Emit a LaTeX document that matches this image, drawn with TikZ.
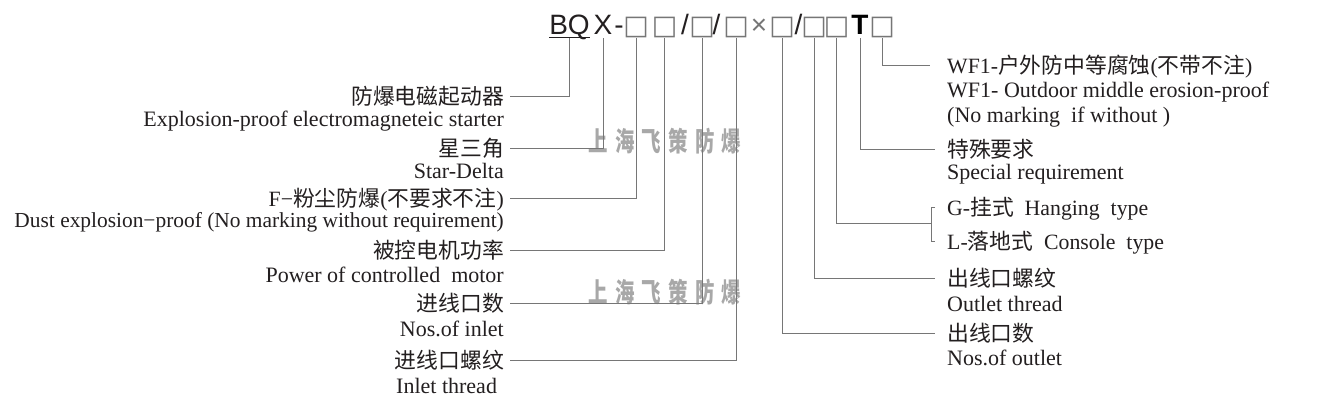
\documentclass[tikz,border=0pt]{standalone}
\usepackage{fontspec}
\usepackage{graphicx}
\setmainfont{Liberation Serif}
\newfontfamily\cjk{Noto Sans CJK SC}
\newfontfamily\codefont{Liberation Sans}
\newfontfamily\boxfont{DejaVu Sans}
\definecolor{ink}{HTML}{231F20}
\definecolor{ln}{HTML}{767676}
\definecolor{wm}{HTML}{A8A8A8}
\begin{document}
\begin{tikzpicture}[x=1pt,y=-1pt,
  cn/.style={inner sep=0pt, text height=18pt, text depth=1.5pt, font=\fontsize{21.8}{24}\selectfont, text=ink},
  en/.style={inner sep=0pt, font=\fontsize{22}{24}\selectfont, text=ink},
  code/.style={inner sep=0pt, text height=20pt, text depth=4pt, anchor=base, font=\codefont\fontsize{28}{30}\selectfont, text=ink},
  bx/.style={code, font=\boxfont\fontsize{27}{30}\selectfont, text=ln},
  conn/.style={draw=ln, line width=1pt},
  wmark/.style={inner sep=0pt, text=wm, font=\cjk\bfseries\fontsize{27}{30}\selectfont}
]
\useasboundingbox[fill=white] (0,0) rectangle (1330,410);

% code line
\node[code] (bq) at (569.5,34) {BQ};
\draw[ink, line width=1pt] ([yshift=1pt]bq.south west) -- ([yshift=1pt]bq.south east);
\node[code] (x)  at (603,34) {X};
\node[code] (d1) at (619,34) {-};
\node[bx]   (b1) at (636,34) {□};
\node[bx]   (b2) at (664.5,34) {□};
\node[code] (s1) at (685,34) {/};
\node[bx]   (b3) at (702,34) {□};
\node[code] (s2) at (716.5,34) {/};
\node[bx]   (b4) at (736,34) {□};
\node[code, text=ln] (tm) at (759,34) {×};
\node[bx]   (b5) at (782,34) {□};
\node[code] (s3) at (798.5,34) {/};
\node[bx]   (b6) at (814,34) {□};
\node[bx]   (b7) at (836.5,34) {□};
\node[code, text=black, font=\codefont\bfseries\fontsize{28}{30}\selectfont] (t) at (860,34) {T};
\node[bx]   (b8) at (882,34) {□};

% watermarks
\node[wmark] (wm1) at (665,141) {\scalebox{0.72}[1]{上\hspace{10pt}海\hspace{10pt}飞\hspace{10pt}策\hspace{10pt}防\hspace{10pt}爆}};
\node[wmark] (wm2) at (665,292) {\scalebox{0.72}[1]{上\hspace{10pt}海\hspace{10pt}飞\hspace{10pt}策\hspace{10pt}防\hspace{10pt}爆}};

% left labels
\node[cn, anchor=east] (l1) at (504,96) {\cjk 防爆电磁起动器};
\node[en, anchor=base east] (e1) at (504,126) {Explosion-proof electromagneteic starter};
\node[cn, anchor=east] (l2) at (504,148) {\cjk 星三角};
\node[en, anchor=base east] (e2) at (504,178) {Star-Delta};
\node[cn, anchor=east] (l3) at (504,198) {F−{\cjk 粉尘防爆}({\cjk 不要求不注})};
\node[en, anchor=base east, font=\fontsize{21.4}{24}\selectfont] (e3) at (504,227) {Dust explosion−proof (No marking without requirement)};
\node[cn, anchor=east] (l4) at (504,250) {\cjk 被控电机功率};
\node[en, anchor=base east] (e4) at (504,282) {Power of controlled\ \ motor};
\node[cn, anchor=east] (l5) at (504,303) {\cjk 进线口数};
\node[en, anchor=base east] (e5) at (504,336) {Nos.of inlet};
\node[cn, anchor=east] (l6) at (504,360) {\cjk 进线口螺纹};
\node[en, anchor=base west] (e6) at (396,393) {Inlet thread};

% right labels
\node[cn, anchor=west] (r1) at (947,65) {WF1-{\cjk 户外防中等腐蚀}({\cjk 不带不注})};
\node[en, anchor=base west] (f1) at (947,97) {WF1- Outdoor middle erosion-proof};
\node[en, anchor=base west] (f1b) at (947,122) {(No marking\ \ if without )};
\node[cn, anchor=west] (r2) at (947,149) {\cjk 特殊要求};
\node[en, anchor=base west] (f2) at (947,179) {Special requirement};
\node[cn, anchor=west] (rg) at (947,207) {G-{\cjk 挂式}\ \ Hanging\ \ type};
\node[cn, anchor=west] (rl) at (947,241) {L-{\cjk 落地式}\ \ Console\ \ type};
\node[cn, anchor=west] (r3) at (947,278) {\cjk 出线口螺纹};
\node[en, anchor=base west] (f3) at (947,311) {Outlet thread};
\node[cn, anchor=west] (r4) at (947,333) {\cjk 出线口数};
\node[en, anchor=base west] (f4) at (947,365) {Nos.of outlet};

% connectors left
\draw[conn] (bq.south) |- ([xshift=6pt]l1.east);
\draw[conn] (x.south)  |- ([xshift=6pt]l2.east);
\draw[conn] (b1.south) |- ([xshift=6pt]l3.east);
\draw[conn] (b2.south) |- ([xshift=6pt]l4.east);
\draw[conn] (b3.south) |- ([xshift=6pt]l5.east);
\draw[conn] (b4.south) |- ([xshift=6pt]l6.east);

% connectors right
\draw[conn] (b8.south) |- ([xshift=-17pt]r1.west);
\draw[conn] (t.south)  |- ([xshift=-12pt]r2.west);
\coordinate (bj) at (931,223);
\draw[conn] (b7.south) |- (bj);
\draw[conn] ([xshift=-12pt]rg.west) -| (bj) |- ([xshift=-12pt]rl.west);
\draw[conn] (b6.south) |- ([xshift=-12pt]r3.west);
\draw[conn] (b5.south) |- ([xshift=-12pt]r4.west);
\end{tikzpicture}
\end{document}
